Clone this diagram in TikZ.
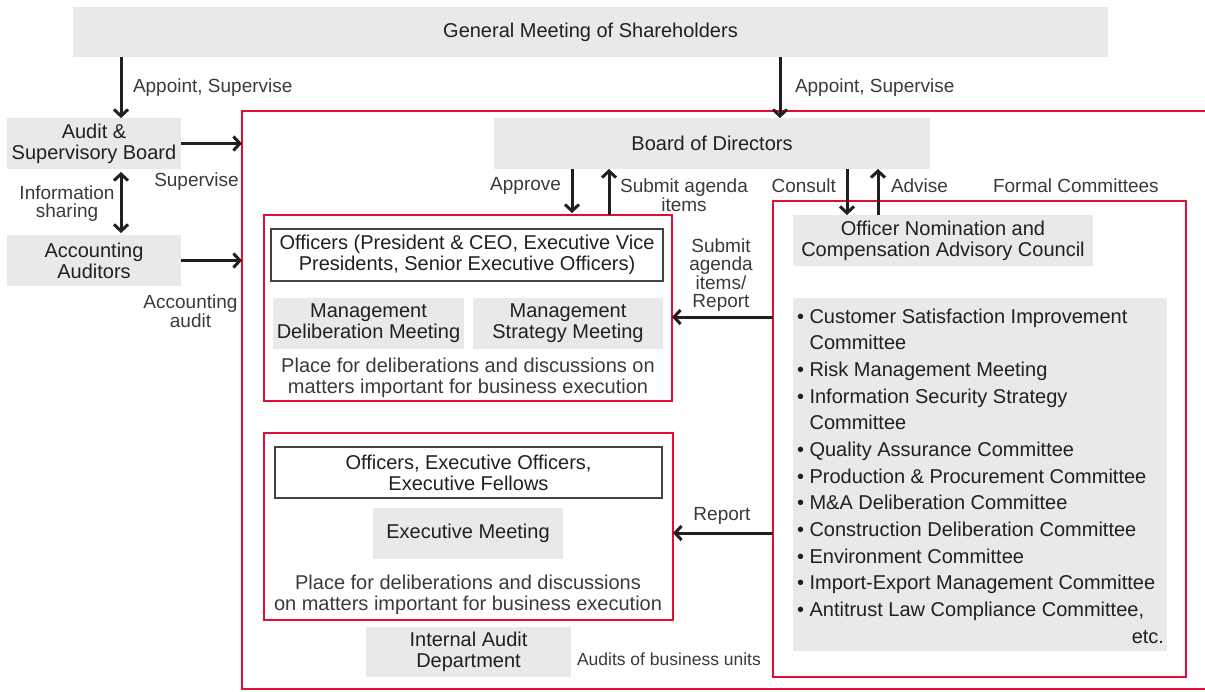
\documentclass[tikz,border=0pt]{standalone}
\usepackage{fontspec}
\setmainfont{Liberation Sans}
\usetikzlibrary{arrows.meta}
\definecolor{boxgray}{RGB}{233,233,233}
\definecolor{redline}{RGB}{226,12,52}
\definecolor{ink}{RGB}{35,31,32}
\definecolor{lbl}{RGB}{58,58,58}
\begin{document}
\begin{tikzpicture}[x=1pt,y=-1pt,
  every node/.style={inner sep=0pt, outer sep=0pt, text=ink},
  graybox/.style={fill=boxgray, draw=none, align=center, font=\fontsize{20}{21}\selectfont},
  whitebox/.style={draw=ink!85, line width=1.3pt, fill=white, align=center, font=\fontsize{20}{21}\selectfont},
  redbox/.style={draw=redline, line width=2.6pt},
  lab/.style={text=lbl, font=\fontsize{19}{18.5}\selectfont, align=center},
  place/.style={text=lbl, font=\fontsize{20}{21}\selectfont, align=center},
  listtxt/.style={text=ink, font=\fontsize{20}{24}\selectfont, anchor=base west},
  arr/.style={draw=ink, line width=3pt, -{Straight Barb[length=6.5pt,width=14pt]}},
  arrboth/.style={draw=ink, line width=3pt, {Straight Barb[length=6.5pt,width=14pt]}-{Straight Barb[length=6.5pt,width=14pt]}},
]
\useasboundingbox (0,0) rectangle (1205,691);

% outer red frame (right side runs off the picture)
\node[redbox, minimum width=990pt, minimum height=578pt] (outer) at (737,400) {};

% top and left column
\node[graybox, minimum width=1035pt, minimum height=50pt] (gm) at (590.5,32) {General Meeting of Shareholders};
\node[graybox, minimum width=174pt, minimum height=51pt] (asb) at (94,143.5) {Audit \&\\Supervisory Board};
\node[graybox, minimum width=174pt, minimum height=51pt] (aa) at (94,260.5) {Accounting\\Auditors};

% board
\node[graybox, minimum width=436pt, minimum height=51pt] (bod) at (712,143.5) {Board of Directors};

% officers group 1
\node[redbox, minimum width=408pt, minimum height=186pt] (off1) at (468,308) {};
\node[whitebox, minimum width=392pt, minimum height=52pt] (offhead) at (467,255) {Officers (President \& CEO, Executive Vice\\Presidents, Senior Executive Officers)};
\node[graybox, minimum width=191pt, minimum height=51pt] (mdm) at (368.5,323.5) {Management\\Deliberation Meeting};
\node[graybox, minimum width=190pt, minimum height=51pt] (msm) at (568,323.5) {Management\\Strategy Meeting};
\node[place] (place1) at (468,378) {Place for deliberations and discussions on\\matters important for business execution};

% officers group 2
\node[redbox, minimum width=409pt, minimum height=187pt] (off2) at (468.5,526.5) {};
\node[whitebox, minimum width=387pt, minimum height=51pt] (off2head) at (468.5,472.5) {Officers, Executive Officers,\\Executive Fellows};
\node[graybox, minimum width=190pt, minimum height=51pt] (em) at (468,533.5) {Executive Meeting};
\node[place] (place2) at (468,595) {Place for deliberations and discussions\\on matters important for business execution};
\node[graybox, minimum width=205pt, minimum height=50pt] (iad) at (468.5,652) {Internal Audit\\Department};
\node[lab, anchor=west, font=\fontsize{17.5}{18}\selectfont] (audl) at (577,659) {Audits of business units};

% formal committees
\node[redbox, minimum width=413pt, minimum height=476pt] (formal) at (979.5,439) {};
\node[graybox, minimum width=300pt, minimum height=51pt] (oncac) at (943,240.5) {Officer Nomination and\\Compensation Advisory Council};
\node[fill=boxgray, minimum width=374pt, minimum height=353pt] (list) at (980,474.5) {};
\foreach \t [count=\i from 0] in {
  {\textbullet\ Customer Satisfaction Improvement},
  {\phantom{\textbullet\ }Committee},
  {\textbullet\ Risk Management Meeting},
  {\textbullet\ Information Security Strategy},
  {\phantom{\textbullet\ }Committee},
  {\textbullet\ Quality Assurance Committee},
  {\textbullet\ Production \& Procurement Committee},
  {\textbullet\ M\&A Deliberation Committee},
  {\textbullet\ Construction Deliberation Committee},
  {\textbullet\ Environment Committee},
  {\textbullet\ Import-Export Management Committee},
  {\textbullet\ Antitrust Law Compliance Committee,}}
  \node[listtxt] (li\i) at ({797},{323+26.67*\i}) {\t};
\node[listtxt, anchor=base east] (etc) at (1164,643) {etc.};

% labels
\node[lab, anchor=west] (l1) at (133,88) {Appoint, Supervise};
\node[lab, anchor=west] (l2) at (795,88) {Appoint, Supervise};
\node[lab] (l3) at (196.5,182) {Supervise};
\node[lab] (l4) at (67,203.5) {Information\\sharing};
\node[lab] (l5) at (190.5,311) {Accounting\\audit};
\node[lab, anchor=east] (l6) at (561,186) {Approve};
\node[lab] (l7) at (684,195) {Submit agenda\\items};
\node[lab, anchor=east] (l8) at (836,186) {Consult};
\node[lab, anchor=west] (l9) at (891,186) {Advise};
\node[lab, anchor=west] (l10) at (993,186) {Formal Committees};
\node[lab] (l11) at (721,275) {Submit\\agenda\\items/\\Report};
\node[lab] (l12) at (722,516) {Report};

% connectors
\draw[arr] ([xshift=48pt]gm.south west) -- ([xshift=48pt]gm.south west |- asb.north);
\draw[arr] (asb.east) -- (asb.east -| outer.west);
\draw[arrboth, shorten <=3pt, shorten >=2pt] ([xshift=27pt]asb.south) -- ([xshift=27pt]aa.north);
\draw[arr] (aa.east) -- (aa.east -| outer.west);
\draw[arr] ([xshift=68pt]bod.north |- gm.south) -- ([xshift=68pt]bod.north);
\draw[arr, shorten >=2pt] ([xshift=104pt]off1.north |- bod.south) -- ([xshift=104pt]off1.north);
\draw[arr] ([xshift=141pt]off1.north) -- ([xshift=141pt]off1.north |- bod.south);
\draw[arr] ([xshift=-96pt]oncac.north |- bod.south) -- ([xshift=-96pt]oncac.north);
\draw[arr] ([xshift=-65pt]oncac.north) -- ([xshift=-65pt]oncac.north |- bod.south);
\draw[arr] ([yshift=-9pt]off1.east -| formal.west) -- ([yshift=-9pt]off1.east);
\draw[arr] ([yshift=-6.5pt]off2.east -| formal.west) -- ([yshift=-6.5pt]off2.east);
\end{tikzpicture}
\end{document}
